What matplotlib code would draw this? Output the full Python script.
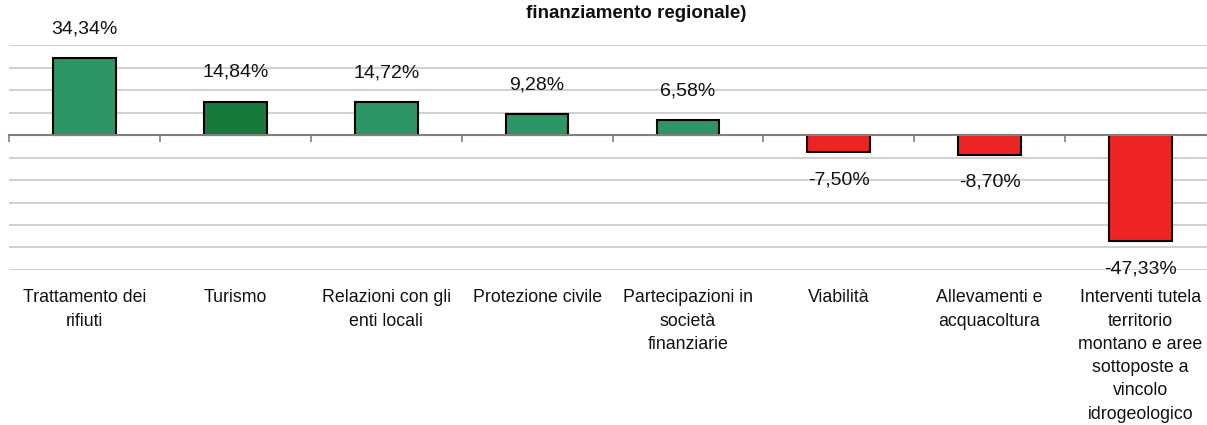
import matplotlib

matplotlib.use("Agg")

import matplotlib.pyplot as plt
import matplotlib.transforms as mtransforms
import numpy as np

plt.rcParams["font.family"] = ["Liberation Sans", "DejaVu Sans"]

# Data
categories = [
    "Trattamento dei\nrifiuti",
    "Turismo",
    "Relazioni con gli\nenti locali",
    "Protezione civile",
    "Partecipazioni in\nsocietà\nfinanziarie",
    "Viabilità",
    "Allevamenti e\nacquacoltura",
    "Interventi tutela\nterritorio\nmontano e aree\nsottoposte a\nvincolo\nidrogeologico",
]
values = [34.34, 14.84, 14.72, 9.28, 6.58, -7.50, -8.70, -47.33]
bar_colors = [
    "#2E9565", "#157A3C", "#2E9565", "#2E9565",
    "#2E9565", "#EE2325", "#EE2325", "#EE2325",
]
y_ticks = list(range(-60, 50, 10))
title_text = "finanziamento regionale)"

fig = plt.figure(figsize=(12.07, 4.25), dpi=100)
# the plot area runs a little past the right edge, as in the reference
ax = fig.add_axes([9.3 / 1207, 155 / 425, 8 * 150.8 / 1207, 225 / 425])

x = np.arange(len(categories))
ax.bar(x, values, width=0.415, color=bar_colors, edgecolor="black",
       linewidth=1.5, zorder=3)

ax.set_xlim(-0.5, len(categories) - 0.5)
ax.set_ylim(y_ticks[0], y_ticks[-1])

# horizontal gridlines only
ax.set_yticks(y_ticks)
ax.yaxis.grid(True, color="#C8C8C8", linewidth=1.2)
ax.tick_params(axis="y", length=0, labelleft=False)
ax.set_axisbelow(True)

for side in ["top", "right", "left"]:
    ax.spines[side].set_visible(False)

# category axis sits on zero, ticks between categories
ax.spines["bottom"].set_position(("data", 0))
ax.spines["bottom"].set_color("#808080")
ax.spines["bottom"].set_linewidth(1.5)
ax.spines["bottom"].set_zorder(4)
ax.set_xticks(np.arange(len(categories) + 1) - 0.5)
ax.tick_params(axis="x", length=5, width=1.2, color="#808080",
               direction="out", labelbottom=False)

# category labels below the plot area
trans = mtransforms.blended_transform_factory(ax.transData, ax.transAxes)
for xi, label in zip(x, categories):
    ax.annotate(label, (xi, 0), xycoords=trans,
                xytext=(0, -14), textcoords="offset points",
                ha="center", va="top", fontsize=12.8,
                linespacing=1.48, color="#111111",
                annotation_clip=False)

# value labels
for xi, v in zip(x, values):
    text = f"{v:.2f}".replace(".", ",") + "%"
    offset = 21 if v >= 0 else -20
    ax.annotate(text, (xi, v), xytext=(0, offset),
                textcoords="offset points", ha="center", va="center",
                fontsize=14, color="#111111", annotation_clip=False)

fig.text(636 / 1207, 1 - 14 / 425, title_text, ha="center", va="center",
         fontsize=13.5, fontweight="bold", color="#111111")

fig.savefig("out.png", dpi=100)
plt.close(fig)
